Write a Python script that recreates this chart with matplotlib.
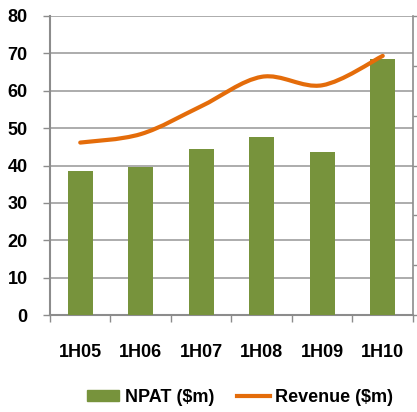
import numpy as np
import matplotlib.pyplot as plt
from matplotlib.path import Path
from matplotlib.patches import PathPatch
from matplotlib.lines import Line2D
from matplotlib.patches import Patch

plt.rcParams['font.family'] = ['Liberation Sans', 'DejaVu Sans']

# данные
periods = ['1H05', '1H06', '1H07', '1H08', '1H09', '1H10']
npat = [38.6, 39.7, 44.4, 47.7, 43.7, 68.5]
revenue = [346, 363, 419, 478, 461, 520]

green = '#77933C'
orange = '#E46C0A'
grey = '#8C8C8C'

fig = plt.figure(figsize=(4.17, 4.12), dpi=100)
ax = fig.add_axes([0.1199, 0.2354, 0.8705, 0.7258])
x = np.arange(len(periods))

ax.bar(x, npat, width=0.42, color=green, zorder=3)
ax.set_xlim(-0.5, len(periods) - 0.5)
ax.set_ylim(0, 80)
ax.set_yticks(range(0, 81, 10))
ax.yaxis.grid(True, color='#A6A6A6', linewidth=1.3, zorder=0)
ax.set_axisbelow(True)

ax.set_xticks(x)
ax.set_xticklabels(periods, fontsize=13, fontweight='bold')
ax.set_xticks(np.arange(-0.5, len(periods)), minor=True)
ax.tick_params(axis='x', which='major', length=0, pad=21)
ax.tick_params(axis='x', which='minor', length=5, width=1.0, color=grey)
for lab in ax.get_yticklabels():
    lab.set_fontsize(13)
    lab.set_fontweight('bold')
ax.tick_params(axis='y', length=5, width=1.0, color=grey, pad=11)

for s in ['top', 'right']:
    ax.spines[s].set_visible(False)
for s in ['left', 'bottom']:
    ax.spines[s].set_color(grey)
    ax.spines[s].set_linewidth(1.5)

# правая ось для выручки
ax2 = ax.twinx()
ax2.set_ylim(0, 600)
ax2.set_yticks(range(0, 601, 100))
ax2.set_yticklabels([])
ax2.tick_params(axis='y', length=5, width=1.0, color=grey)
for s in ['top', 'left', 'bottom']:
    ax2.spines[s].set_visible(False)
ax2.spines['right'].set_color(grey)
ax2.spines['right'].set_linewidth(1.2)

# сглаженная линия (как в Excel) через кривые Безье
pts = np.column_stack([x, revenue]).astype(float)
verts = [tuple(pts[0])]
codes = [Path.MOVETO]
n = len(pts)
for i in range(n - 1):
    p0 = pts[i - 1] if i > 0 else pts[i]
    p1 = pts[i]
    p2 = pts[i + 1]
    p3 = pts[i + 2] if i + 2 < n else pts[i + 1]
    c1 = p1 + (p2 - p0) / 6
    c2 = p2 - (p3 - p1) / 6
    verts += [tuple(c1), tuple(c2), tuple(p2)]
    codes += [Path.CURVE4] * 3
ax2.add_patch(PathPatch(Path(verts, codes), facecolor='none', edgecolor=orange,
                        linewidth=3, capstyle='round', zorder=4))

handles = [Patch(color=green, label='NPAT ($m)'),
           Line2D([], [], color=orange, linewidth=3, label='Revenue ($m)')]
fig.legend(handles=handles, loc='center', bbox_to_anchor=(0.5755, 0.036), ncol=2,
           frameon=False, prop={'size': 13, 'weight': 'bold'},
           handlelength=1.8, handleheight=0.55, handletextpad=0.3,
           columnspacing=1.3)

fig.savefig('out.png', dpi=100)
